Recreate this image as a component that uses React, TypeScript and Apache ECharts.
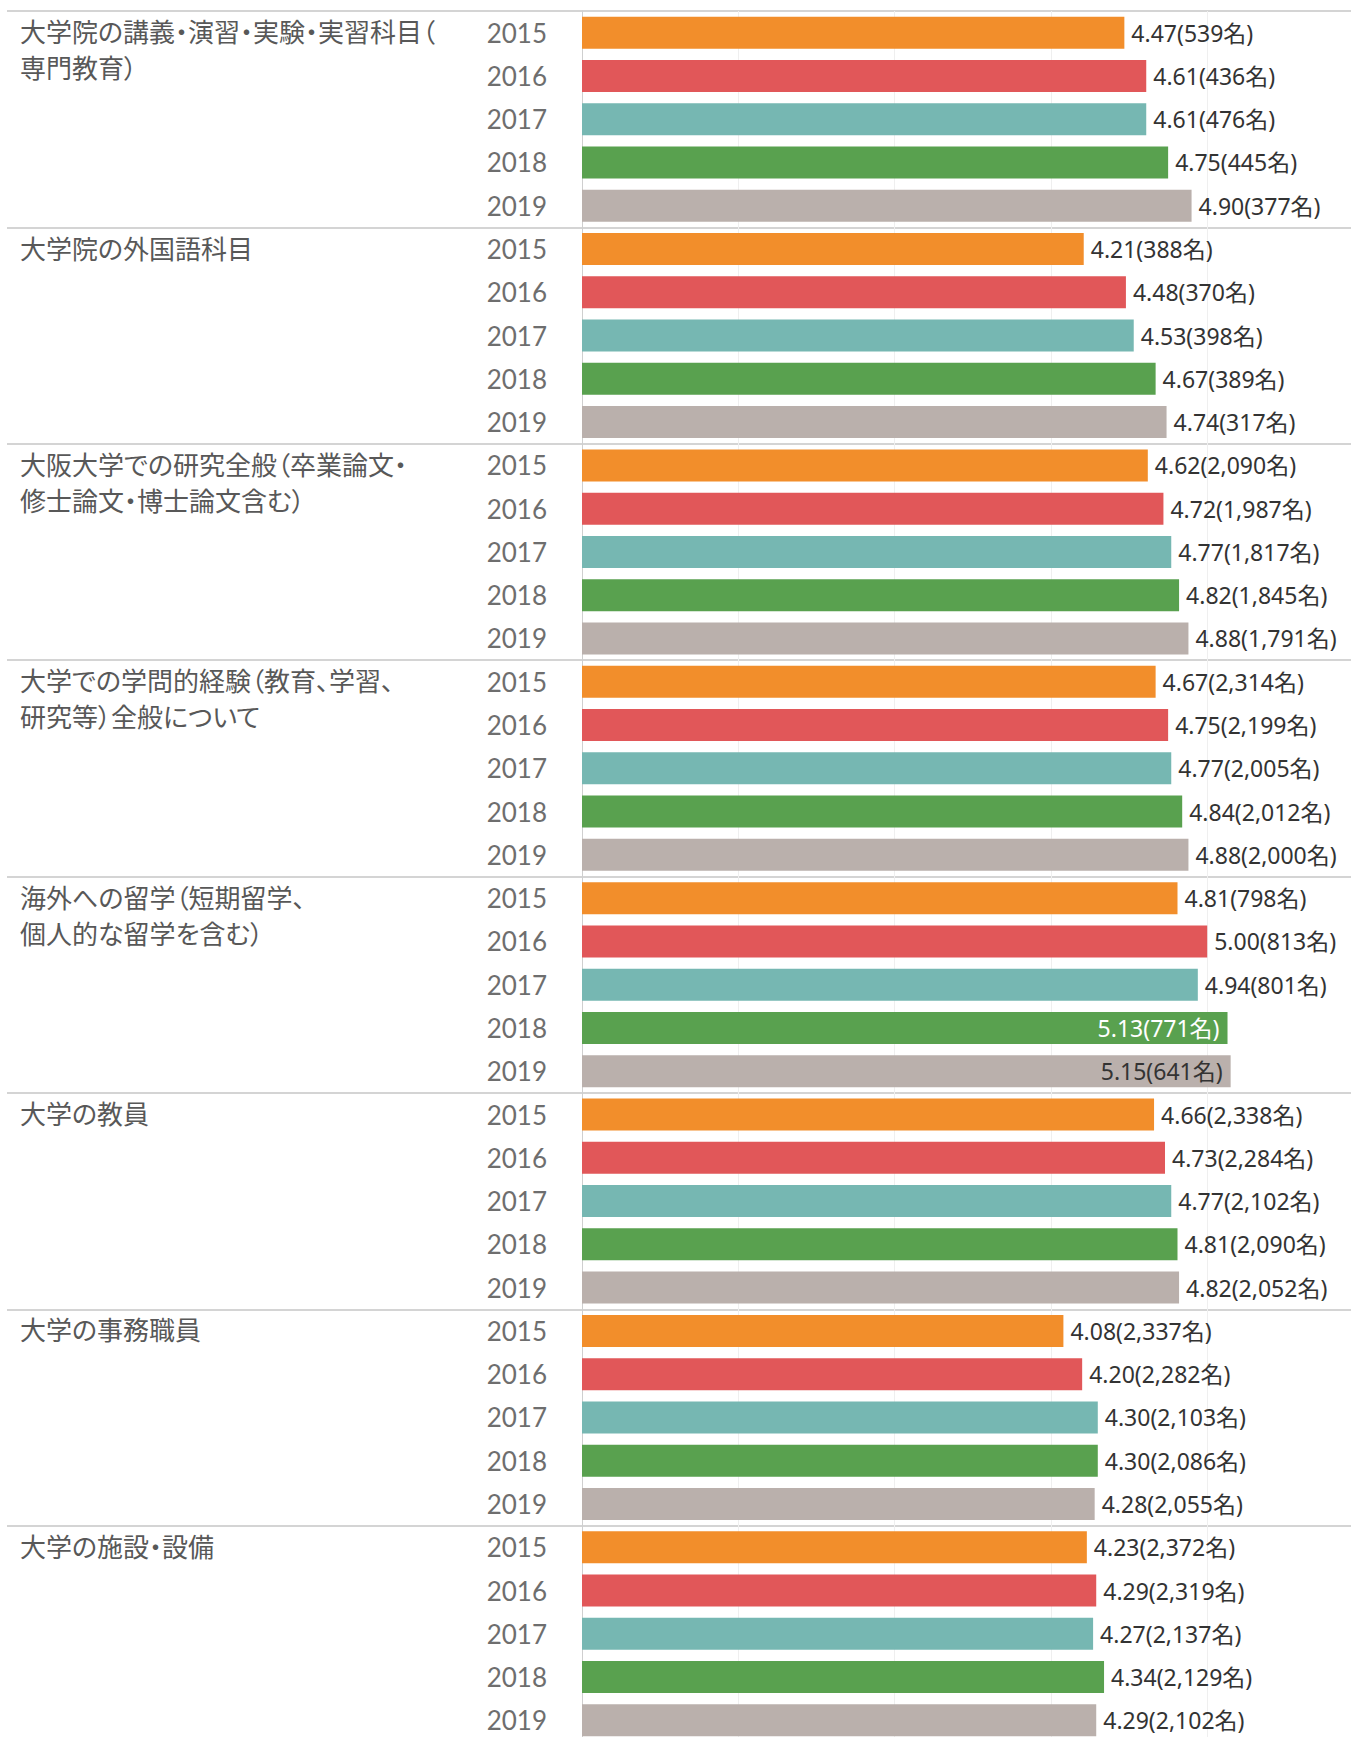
import React, { useEffect, useRef } from "react";
import * as echarts from "echarts";

const groups = [
  "大学院の講義・演習・実験・実習科目（\n専門教育）",
  "大学院の外国語科目",
  "大阪大学での研究全般（卒業論文・\n修士論文・博士論文含む）",
  "大学での学問的経験（教育、学習、\n研究等）全般について",
  "海外への留学（短期留学、\n個人的な留学を含む）",
  "大学の教員",
  "大学の事務職員",
  "大学の施設・設備",
];
const years = ["2015", "2016", "2017", "2018", "2019"];

const lectureScores = [4.47, 4.61, 4.61, 4.75, 4.9];
const lectureCounts = [539, 436, 476, 445, 377];
const foreignLangScores = [4.21, 4.48, 4.53, 4.67, 4.74];
const foreignLangCounts = [388, 370, 398, 389, 317];
const researchScores = [4.62, 4.72, 4.77, 4.82, 4.88];
const researchCounts = [2090, 1987, 1817, 1845, 1791];
const academicScores = [4.67, 4.75, 4.77, 4.84, 4.88];
const academicCounts = [2314, 2199, 2005, 2012, 2000];
const abroadScores = [4.81, 5.0, 4.94, 5.13, 5.15];
const abroadCounts = [798, 813, 801, 771, 641];
const facultyScores = [4.66, 4.73, 4.77, 4.81, 4.82];
const facultyCounts = [2338, 2284, 2102, 2090, 2052];
const staffScores = [4.08, 4.2, 4.3, 4.3, 4.28];
const staffCounts = [2337, 2282, 2103, 2086, 2055];
const facilityScores = [4.23, 4.29, 4.27, 4.34, 4.29];
const facilityCounts = [2372, 2319, 2137, 2129, 2102];

const allScores = [
  lectureScores, foreignLangScores, researchScores, academicScores,
  abroadScores, facultyScores, staffScores, facilityScores,
];
const allCounts = [
  lectureCounts, foreignLangCounts, researchCounts, academicCounts,
  abroadCounts, facultyCounts, staffCounts, facilityCounts,
];

const yearColors = ["#f28e2b", "#e15759", "#76b7b2", "#59a14f", "#bab0ac"];
const insideLabelColors = ["#ffffff", "#ffffff", "#333333", "#ffffff", "#333333"];

export default function App() {
  const ref = useRef<HTMLDivElement>(null);
  useEffect(() => {
    if (!ref.current) return;
    const chart = echarts.init(ref.current, undefined, { renderer: "svg" });

    const cats: string[] = [];
    const data: any[] = [];
    allScores.forEach((scores, g) => {
      scores.forEach((v, y) => {
        cats.push(years[y]);
        const n = allCounts[g][y];
        const inside = v >= 5.1;
        data.push({
          value: v,
          count: n,
          itemStyle: { color: yearColors[y] },
          label: inside
            ? { position: "insideRight", distance: 8, color: insideLabelColors[y] }
            : undefined,
        });
      });
    });

    const gridTop = 11;
    const gridHeight = 1731;
    const gridLeft = 582;
    const gridWidth = 769;
    const unitPx = 156.3;

    chart.setOption({
      animation: false,
      backgroundColor: "#ffffff",
      grid: [
        { left: 7, top: gridTop, width: 1351 - 7, height: gridHeight },
        { left: gridLeft, top: gridTop, width: gridWidth, height: gridHeight },
      ],
      xAxis: [
        { gridIndex: 0, type: "value", min: 0, max: 1, show: false },
        {
          gridIndex: 1,
          type: "value",
          min: 1,
          max: 1 + gridWidth / unitPx,
          interval: 1,
          axisLabel: { show: false },
          axisLine: { show: false },
          axisTick: { show: false },
          splitLine: { show: true, lineStyle: { color: "#efefef", width: 1 } },
        },
      ],
      yAxis: [
        {
          gridIndex: 0,
          type: "category",
          inverse: true,
          data: groups,
          axisLabel: { show: false },
          axisLine: { show: false },
          axisTick: { show: false },
          splitLine: { show: true, interval: 0, lineStyle: { color: "#d4d4d4", width: 2 } },
        },
        {
          gridIndex: 1,
          type: "category",
          inverse: true,
          data: cats,
          axisTick: { show: false },
          axisLine: { show: true, lineStyle: { color: "#cfcfcf", width: 1 } },
          axisLabel: {
            interval: 0,
            margin: 35,
            fontSize: 26,
            color: "#6e6e6e",
            fontFamily: "Lato, 'Noto Sans', sans-serif",
          },
        },
      ],
      series: [
        {
          type: "bar",
          xAxisIndex: 1,
          yAxisIndex: 1,
          barWidth: 32,
          data,
          label: {
            show: true,
            position: "right",
            distance: 7,
            fontSize: 23,
            color: "#333333",
            fontFamily: "'Noto Sans', 'Noto Sans CJK JP', sans-serif",
            formatter: (p: any) =>
              p.value.toFixed(2) + "(" + p.data.count.toLocaleString("en-US") + "名)",
          },
        },
      ],
    });

    const lineH = 36;
    const graphics = groups.map((g, i) => {
      const cy = chart.convertToPixel({ yAxisIndex: 1 }, i * 5) as number;
      return {
        type: "text",
        x: 20,
        y: cy - lineH / 2 - 2,
        style: {
          text: g,
          fontSize: 26,
          fontFamily: "'Noto Sans CJK JP', sans-serif",
          fill: "#585858",
          lineHeight: lineH,
          verticalAlign: "top",
          align: "left",
        },
      };
    });
    chart.setOption({ graphic: graphics });

    return () => chart.dispose();
  }, []);

  return (
    <div
      style={{
        position: "fixed",
        left: 0,
        top: 0,
        width: 1351,
        height: 1737,
        overflow: "hidden",
        background: "#fff",
      }}
    >
      <style>{`svg text { font-feature-settings: "palt" 1; }`}</style>
      <div ref={ref} style={{ width: 1351, height: 1760 }} />
    </div>
  );
}
